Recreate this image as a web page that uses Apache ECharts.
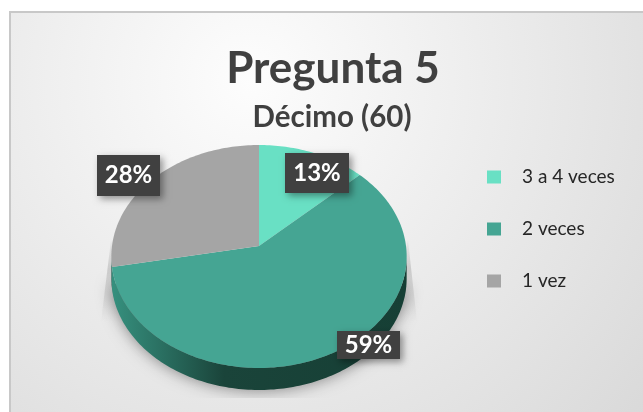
<!DOCTYPE html>
<html><head><meta charset="utf-8">
<style>html,body{margin:0;padding:0;background:#fff}#c{width:643px;height:412px}</style>
<script src="https://cdn.jsdelivr.net/npm/echarts@6/dist/echarts.min.js"></script></head>
<body><div id="c"></div>
<script>
const categories = ['3 a 4 veces', '2 veces', '1 vez'];
const values = [13, 59, 28];
const colors = ['#69E0C4', '#45A593', '#A5A5A5'];
const titleText = 'Pregunta 5';
const subtitleText = 'Décimo (60)';

// tilted-disc projection of the pie
const CX = 259, CY = 246, RX = 147, RY = 110.5, K = 0.094, DEPTH = 22;
const labelBoxes = [[285, 153, 64, 40], [337, 331, 63, 28], [97, 155, 63, 41]];
const total = values.reduce((a, b) => a + b, 0);
function project(a) {
  const u = Math.sin(a), v = Math.cos(a), s = 1 / (1 + K * v);
  return [CX + RX * u * s, CY - RY * v * s];
}
function arc(a0, a1) {
  const pts = [], n = Math.max(2, Math.ceil((a1 - a0) / 0.02));
  for (let i = 0; i <= n; i++) pts.push(project(a0 + (a1 - a0) * i / n));
  return pts;
}
const chart = echarts.init(document.getElementById('c'), null, { renderer: 'canvas' });

function sliceSeries(i) {
  const before = values.slice(0, i).reduce((a, b) => a + b, 0);
  return {
    type: 'custom', name: categories[i], coordinateSystem: 'none',
    itemStyle: { color: colors[i] },
    data: [[values[i], before]],
    renderItem(params, api) {
      const a0 = api.value(1) / total * 2 * Math.PI;
      const a1 = (api.value(1) + api.value(0)) / total * 2 * Math.PI;
      const edge = arc(a0, a1);
      const kids = [];
      const front = edge.filter(p => p[1] > CY + 8);
      if (front.length > 2) {
        kids.push({
          type: 'polygon',
          shape: { points: front.concat(front.slice().reverse().map(p => [p[0], p[1] + DEPTH])) },
          style: {
            fill: new echarts.graphic.LinearGradient(0, 0, 1, 0, [
              { offset: 0, color: '#36907E' }, { offset: 0.17, color: '#2A6F61' },
              { offset: 0.38, color: '#1A443A' }, { offset: 1, color: '#163F35' }])
          }
        });
      }
      kids.push({
        type: 'polygon', z2: 2,
        shape: { points: [[CX, CY]].concat(edge) },
        style: { fill: api.visual('color') }
      });
      const b = labelBoxes[i];
      kids.push({
        type: 'rect', z2: 10,
        shape: { x: b[0], y: b[1], width: b[2], height: b[3] },
        style: { fill: '#404040', shadowBlur: 7, shadowColor: 'rgba(0,0,0,0.4)', shadowOffsetX: 3, shadowOffsetY: 3 }
      });
      kids.push({
        type: 'text', z2: 11,
        style: {
          x: b[0] + b[2] / 2, y: b[1] + b[3] / 2, align: 'center', verticalAlign: 'middle',
          text: Math.round(api.value(0) / total * 100) + '%',
          fill: '#fff', font: 'bold 24px Lato'
        }
      });
      return { type: 'group', children: kids };
    }
  };
}

function wedge(xTop, xOut, xIn) {
  return {
    type: 'polygon',
    shape: { points: [[xTop, CY - 6], [xOut, CY + 76], [xIn, CY + 76]] },
    style: { fill: new echarts.graphic.LinearGradient(0, 0, 0, 1, [
      { offset: 0, color: 'rgba(120,120,120,0.05)' }, { offset: 0.35, color: 'rgba(120,120,120,0.28)' },
      { offset: 0.7, color: 'rgba(120,120,120,0.14)' }, { offset: 1, color: 'rgba(120,120,120,0)' }]) }
  };
}
const shadowSeries = {
  type: 'custom', name: 'sombra', coordinateSystem: 'none', silent: true, data: [[0]],
  renderItem() {
    return {
      type: 'group',
      clipPath: { type: 'rect', shape: { x: 0, y: 0, width: 643, height: CY + 152 } },
      children: [
        wedge(CX - 148, CX - 158, CX - 125),
        wedge(CX + 149, CX + 158, CX + 125),
        { type: 'polygon',
          shape: { points: arc(1.75, 4.55).map(p => [p[0], p[1] + DEPTH - 2]) },
          style: { fill: '#777', shadowBlur: 16, shadowColor: 'rgba(0,0,0,0.45)', shadowOffsetY: 2 } }
      ]
    };
  }
};

chart.setOption({
  animation: false,
  graphic: [
    { type: 'rect', z: -10, shape: { x: 10, y: 12, width: 660, height: 430 },
      style: {
        fill: new echarts.graphic.RadialGradient(250, 80, 520, [
          { offset: 0, color: '#FDFDFD' }, { offset: 1, color: '#D9D9D9' }], true),
        stroke: '#C8C8C8', lineWidth: 2 } }
  ],
  title: [
    { text: titleText, left: 328, top: 42, textAlign: 'center',
      textStyle: { fontFamily: 'Lato', fontWeight: 'bold', fontSize: 44, color: '#404040' } },
    { text: subtitleText, left: 327, top: 97, textAlign: 'center',
      textStyle: { fontFamily: 'Lato', fontWeight: 'bold', fontSize: 29.5, color: '#404040' } }
  ],
  legend: {
    data: categories, orient: 'vertical', left: 482, top: 161, icon: 'rect',
    itemWidth: 14, itemHeight: 13, itemGap: 30,
    textStyle: { fontFamily: 'Lato', fontSize: 19, color: '#262626', padding: [0, 0, 0, 16], lineHeight: 22 }
  },
  series: [shadowSeries].concat(categories.map((_, i) => sliceSeries(i)))
});
</script></body></html>
